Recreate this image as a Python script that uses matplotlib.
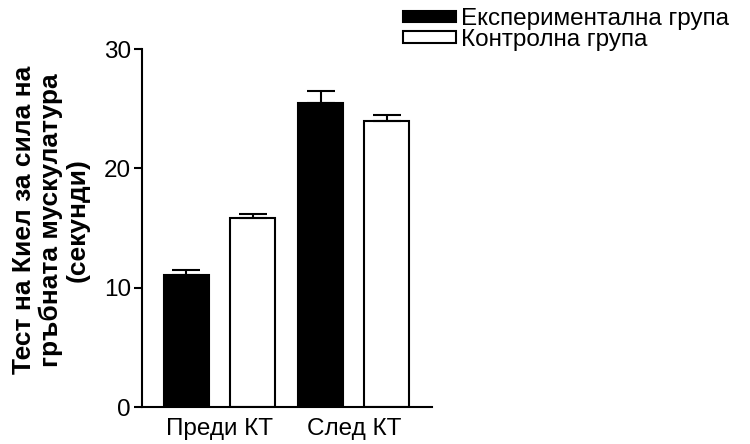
import matplotlib
matplotlib.use("Agg")
import matplotlib.pyplot as plt
import numpy as np

plt.rcParams['font.family'] = ['Liberation Sans', 'DejaVu Sans']

categories = ["Преди КТ", "След КТ"]
series_names = ["Експериментална група", "Контролна група"]
exp_values = [11.05, 25.5]
exp_err = [0.45, 0.95]
ctrl_values = [15.8, 24.0]
ctrl_err = [0.4, 0.45]
y_ticks = [0, 10, 20, 30]
y_label = "Тест на Киел за сила на\nгръбната мускулатура\n(секунди)"

fig = plt.figure(figsize=(7.5, 4.44), dpi=100)
ax = fig.add_axes([142/750, 1-407/444, 290/750, (407-49)/444])
for s in ['top', 'right']:
    ax.spines[s].set_visible(False)
for s in ['left', 'bottom']:
    ax.spines[s].set_linewidth(1.5)
ax.spines['bottom'].set_position(('data', 0))

x = np.arange(len(categories))
off = 0.248
w = 0.336
ax.bar(x - off, exp_values, w, color='black', edgecolor='black', linewidth=1.5,
       yerr=[np.zeros(2), exp_err], error_kw=dict(ecolor='black', elinewidth=1.5, capsize=10, capthick=1.5),
       label=series_names[0], zorder=2)
ax.bar(x + off, ctrl_values, w, color='white', edgecolor='black', linewidth=1.5,
       yerr=[np.zeros(2), ctrl_err], error_kw=dict(ecolor='black', elinewidth=1.5, capsize=10, capthick=1.5),
       label=series_names[1], zorder=2)

ax.set_xlim(-0.58, 1.584)
ax.set_ylim(0, 30)
ax.set_yticks(y_ticks)
ax.set_xticks(x)
ax.set_xticklabels(categories, fontsize=17.5)
ax.tick_params(axis='x', length=0, pad=8)
ax.tick_params(axis='y', labelsize=17.5, length=6, width=1.5, direction='out', pad=2)

fig.text(51/750, 1-220/444, y_label, rotation=90, ha='center', va='center',
         fontsize=19, fontweight='bold', multialignment='center', linespacing=1.12)

leg = fig.legend(loc='upper left', bbox_to_anchor=(403/750, 1-8/444), frameon=False,
                 fontsize=17.5, handlelength=2.2, handleheight=0.35, handletextpad=0.2,
                 labelspacing=-0.05, borderpad=0, borderaxespad=0)

fig.savefig("out.png", dpi=100)
